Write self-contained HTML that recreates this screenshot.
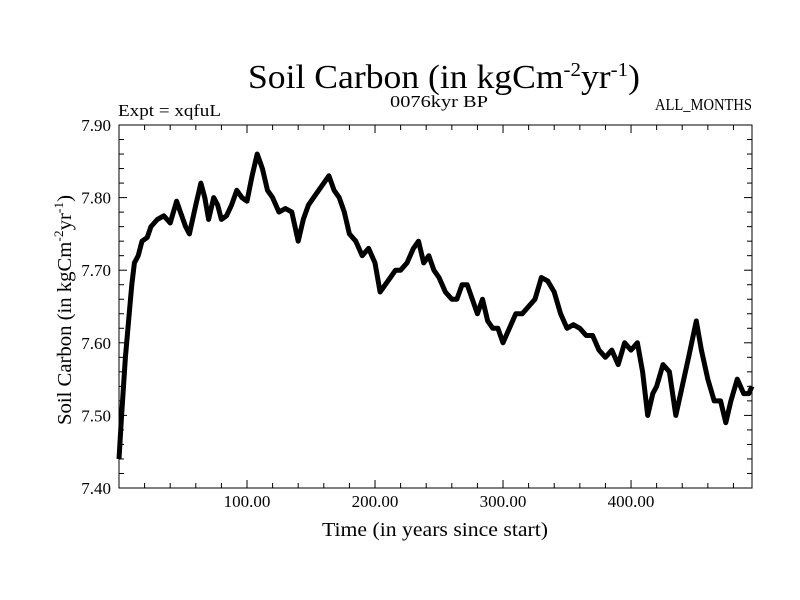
<!DOCTYPE html>
<html><head><meta charset="utf-8"><style>
html,body{margin:0;padding:0;background:#fff;}
svg{display:block;font-family:"Liberation Serif",serif;}
</style></head><body>
<svg id="chart" width="800" height="600" viewBox="0 0 800 600" xmlns="http://www.w3.org/2000/svg">
<rect x="0" y="0" width="800" height="600" fill="#fff"/>
<text x="248" y="88" font-size="34" textLength="392" lengthAdjust="spacingAndGlyphs">Soil Carbon (in kgCm<tspan dy="-12" font-size="20">-2</tspan><tspan dy="12">yr</tspan><tspan dy="-12" font-size="20">-1</tspan><tspan dy="12">)</tspan></text>
<text x="118" y="116" font-size="17" textLength="103" lengthAdjust="spacingAndGlyphs">Expt = xqfuL</text>
<text x="390" y="107" font-size="17" textLength="98" lengthAdjust="spacingAndGlyphs">0076kyr BP</text>
<text x="655" y="110" font-size="17" textLength="97" lengthAdjust="spacingAndGlyphs">ALL_MONTHS</text>
<g id="axes"></g>
<path id="series" fill="none" stroke="#000" stroke-width="5" stroke-linejoin="round"/>
<rect x="119" y="125" width="633" height="363" fill="none" stroke="#000" stroke-width="1"/>
<text x="435" y="536" font-size="20" text-anchor="middle" textLength="226" lengthAdjust="spacingAndGlyphs">Time (in years since start)</text>
<text transform="translate(71,310) rotate(-90)" font-size="20" text-anchor="middle" textLength="230" lengthAdjust="spacingAndGlyphs">Soil Carbon (in kgCm<tspan dy="-8" font-size="13">-2</tspan><tspan dy="8">yr</tspan><tspan dy="-8" font-size="13">-1</tspan><tspan dy="8">)</tspan></text>
</svg>
<script>
const years = [0,2,5,8,10,12,15,18,22,25,30,35,40,45,48,52,55,60,64,67,70,74,77,80,84,88,92,96,100,104,108,112,116,120,125,130,135,140,144,148,152,156,160,164,168,172,176,180,185,190,195,200,204,208,212,216,220,225,230,234,238,242,246,250,255,260,264,268,272,276,280,284,288,292,296,300,305,310,315,320,325,330,335,340,345,350,355,360,365,370,375,380,385,390,395,400,405,409,413,417,420,425,430,435,440,445,451,455,460,465,470,474,478,483,488,492,494.5];
const values = [7.44,7.50,7.58,7.64,7.68,7.71,7.72,7.74,7.745,7.76,7.77,7.775,7.765,7.795,7.78,7.76,7.75,7.79,7.82,7.80,7.77,7.80,7.79,7.77,7.775,7.79,7.81,7.80,7.795,7.83,7.86,7.84,7.81,7.80,7.78,7.785,7.78,7.74,7.77,7.79,7.80,7.81,7.82,7.83,7.81,7.80,7.78,7.75,7.74,7.72,7.73,7.71,7.67,7.68,7.69,7.70,7.70,7.71,7.73,7.74,7.71,7.72,7.70,7.69,7.67,7.66,7.66,7.68,7.68,7.66,7.64,7.66,7.63,7.62,7.62,7.60,7.62,7.64,7.64,7.65,7.66,7.69,7.685,7.67,7.64,7.62,7.625,7.62,7.61,7.61,7.59,7.58,7.59,7.57,7.60,7.59,7.60,7.56,7.50,7.53,7.54,7.57,7.56,7.50,7.54,7.58,7.63,7.59,7.55,7.52,7.52,7.49,7.52,7.55,7.53,7.53,7.54];
const xTicks = [100,200,300,400];
const xTickLabels = ["100.00","200.00","300.00","400.00"];
const yTicks = [7.4,7.5,7.6,7.7,7.8,7.9];
const yTickLabels = ["7.40","7.50","7.60","7.70","7.80","7.90"];

const X0=119,X1=752,Y0=488,Y1=125,XMIN=0,XMAX=494.5,YMIN=7.4,YMAX=7.9;
function sx(v){return X0+(v-XMIN)/(XMAX-XMIN)*(X1-X0);}
function sy(v){return Y0-(v-YMIN)/(YMAX-YMIN)*(Y0-Y1);}
const NS="http://www.w3.org/2000/svg";
const axes=document.getElementById('axes');
function line(x1,y1,x2,y2,name){
  const l=document.createElementNS(NS,'line');
  l.setAttribute('x1',x1);l.setAttribute('y1',y1);l.setAttribute('x2',x2);l.setAttribute('y2',y2);
  l.setAttribute('stroke','#000');l.setAttribute('stroke-width','1');
  
  
  axes.appendChild(l);
}
function text(x,y,s,anchor,name){
  const t=document.createElementNS(NS,'text');
  t.setAttribute('x',x);t.setAttribute('y',y);t.setAttribute('font-size','17');
  t.setAttribute('text-anchor',anchor);t.textContent=s;
  
  
  axes.appendChild(t);
}
for(let v=20;v<XMAX;v+=20){
  const major=(v%100===0), len=major?8:5, x=sx(v);
  line(x,Y0,x,Y0-len,'x-tick');
  line(x,Y1,x,Y1+len,'x-tick-top');
}
for(let i=0;i<=25;i++){
  const v=YMIN+i*0.02, major=(i%5===0), len=major?8:5, y=sy(v);
  if(i===0||i===25) continue;
  line(X0,y,X0+len,y,'y-tick');
  line(X1,y,X1-len,y,'y-tick-right');
}
xTicks.forEach((v,i)=>text(sx(v),507,xTickLabels[i],'middle','x-tick-label'));
yTicks.forEach((v,i)=>text(111,sy(v)+6,yTickLabels[i],'end','y-tick-label'));
let d='';
years.forEach((yr,i)=>{d+=(i?'L':'M')+sx(yr).toFixed(1)+','+sy(values[i]).toFixed(1);});
document.getElementById('series').setAttribute('d',d);
</script>
</body></html>
